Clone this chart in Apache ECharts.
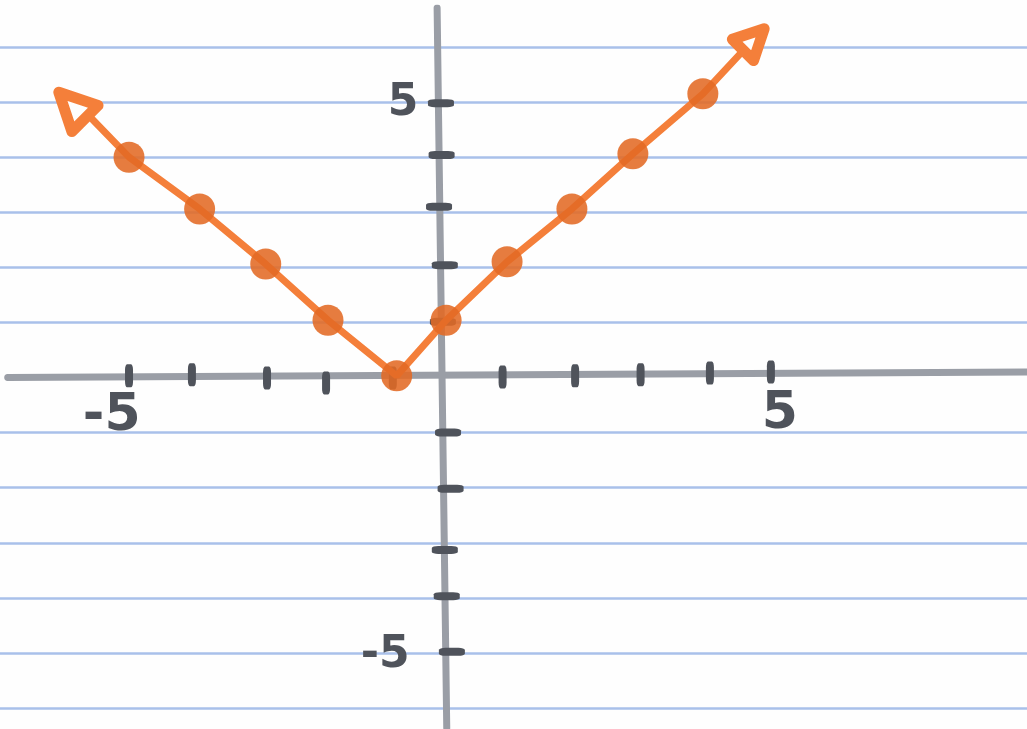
<!DOCTYPE html>
<html>
<head>
<meta charset="utf-8">
<style>
  html, body { margin: 0; padding: 0; background: #fefefe; }
  #chart { width: 1027px; height: 729px; }
</style>
<script src="https://cdn.jsdelivr.net/npm/echarts@6/dist/echarts.min.js"></script>
</head>
<body>
<div id="chart"></div>
<script>
// points (hand drawn, so not exactly on the integers)
const pointX = [-4.89, -3.79, -2.76, -1.79, -0.72, 0.05, 1.0, 2.01, 2.96, 4.05];
const pointY = [4.0, 3.06, 2.06, 1.04, 0.03, 1.04, 2.1, 3.06, 4.06, 5.15];
// the line runs on past the points up to the arrow heads
const lineStart = [-5.53, 4.77];
const lineEnd = [4.66, 5.91];
const arrowX = [-5.78, 4.84];
const arrowY = [4.94, 6.14];
// the drawn axes lean a little
const xAxisEnds = [[-6.78, 0.0], [9.1, 0.1]];
const yAxisEnds = [[-0.09, 6.71], [0.06, -6.36]];
// tick marks
const xTickX = [-4.89, -3.91, -2.74, -1.82, -0.78, 0.93, 2.06, 3.08, 4.16, 5.11];
const xTickY = [0.03, 0.05, -0.01, -0.1, -0.01, 0.01, 0.03, 0.05, 0.08, 0.1];
const yTickX = [-0.03, -0.02, -0.06, 0.03, 0, 0.08, 0.12, 0.03, 0.06, 0.14];
const yTickY = [4.98, 4.04, 3.1, 2.04, 1.01, -1.0, -2.02, -3.13, -3.97, -4.98];
// tick labels, written next to the axes
const xLabels = ['-5', '5'];
const xLabelX = [-5.16, 5.25];
const xLabelY = [-0.7, -0.68];
const yLabels = ['5', '-5'];
const yLabelX = [-0.62, -0.9];
const yLabelY = [4.98, -5.04];
// ruled lines of the notebook paper
const paperLines = [-6, -5, -4, -3, -2, -1, 1, 2, 3, 4, 5, 6];

const chart = echarts.init(document.getElementById('chart'));

const lineData = [lineStart].concat(pointX.map((x, i) => [x, pointY[i]]), [lineEnd]);

function labelSeries(texts, xs, ys, size) {
  return {
    type: 'scatter',
    symbolSize: 1,
    silent: true,
    itemStyle: { color: 'transparent', opacity: 1 },
    data: texts.map((t, i) => ({ value: [xs[i], ys[i]], name: t })),
    label: {
      show: true,
      position: 'inside',
      formatter: '{b}',
      color: '#4f535b',
      fontFamily: 'DejaVu Sans',
      fontWeight: 'bold',
      fontSize: size
    },
    z: 6
  };
}

function axisSeries(ends) {
  return {
    type: 'line',
    data: ends,
    silent: true,
    symbol: 'none',
    lineStyle: { color: '#9a9ea6', width: 7, cap: 'round' },
    z: 2
  };
}

const option = {
  backgroundColor: '#fefefe',
  animation: false,
  grid: { left: 0, right: 0, top: 8, bottom: 1, outerBoundsMode: 'none' },
  xAxis: {
    type: 'value',
    min: -6.9,
    max: 9.1,
    splitLine: { show: false },
    axisTick: { show: false },
    axisLabel: { show: false },
    axisLine: { show: false }
  },
  yAxis: {
    type: 'value',
    min: -6.363,
    max: 6.708,
    splitLine: { show: false },
    axisTick: { show: false },
    axisLabel: { show: false },
    axisLine: { show: false }
  },
  series: [
    {
      // paper lines
      type: 'line',
      data: [],
      silent: true,
      markLine: {
        silent: true,
        z: 1,
        symbol: 'none',
        label: { show: false },
        lineStyle: { color: '#a9c0ea', width: 2.5, type: 'solid' },
        data: paperLines.map(v => ({ yAxis: v }))
      }
    },
    axisSeries(xAxisEnds),
    axisSeries(yAxisEnds),
    {
      type: 'scatter',
      data: xTickX.map((x, i) => [x, xTickY[i]]),
      symbol: 'roundRect',
      symbolSize: [8, 23],
      itemStyle: { color: '#4f535b', opacity: 1 },
      z: 3
    },
    {
      type: 'scatter',
      data: yTickX.map((x, i) => [x, yTickY[i]]),
      symbol: 'roundRect',
      symbolSize: [26, 8],
      itemStyle: { color: '#4f535b', opacity: 1 },
      z: 3
    },
    {
      type: 'line',
      data: lineData,
      showSymbol: false,
      symbol: 'none',
      lineStyle: { color: '#f47f3a', width: 7 },
      z: 4
    },
    {
      type: 'scatter',
      data: pointX.map((x, i) => [x, pointY[i]]),
      symbol: 'circle',
      symbolSize: 31,
      itemStyle: { color: '#e36a24', opacity: 0.88 },
      z: 5
    },
    {
      type: 'scatter',
      data: [
        { value: [arrowX[0], arrowY[0]], symbolRotate: 45, symbolSize: 37 },
        { value: [arrowX[1], arrowY[1]], symbolRotate: -45, symbolSize: 30 }
      ],
      symbol: 'triangle',
      itemStyle: { color: '#fefefe', borderColor: '#f47f3a', borderWidth: 11, borderJoin: 'round', opacity: 1 },
      z: 5
    },
    labelSeries(xLabels, xLabelX, xLabelY, 52),
    labelSeries(yLabels, yLabelX, yLabelY, 44)
  ]
};

chart.setOption(option);
</script>
</body>
</html>
